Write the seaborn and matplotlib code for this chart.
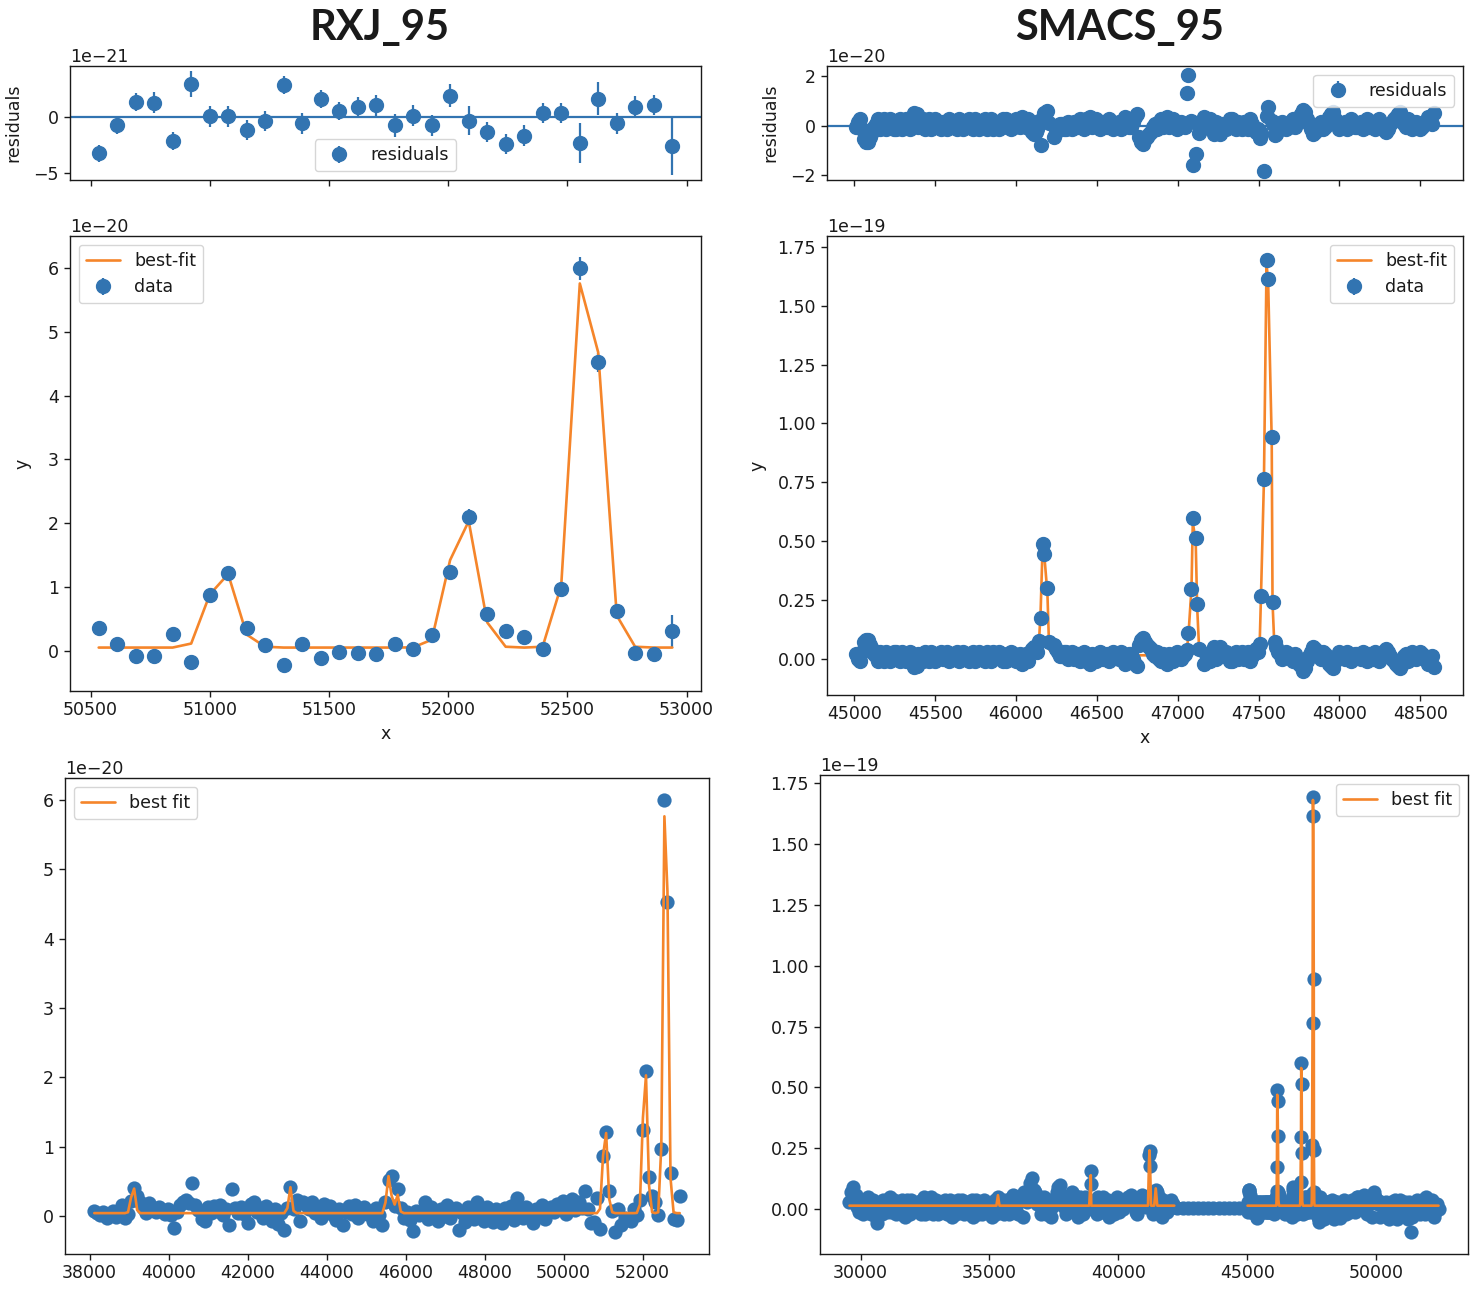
import numpy as np
import pandas as pd
import matplotlib
matplotlib.use("Agg")
import matplotlib.pyplot as plt
import seaborn as sns
from matplotlib.ticker import MultipleLocator

# ------------------------------------------------------------------ data
# RXJ_95 spectrum (flux in units of 1e-20)
rxj_wave = [
    38118, 38196, 38273, 38351, 38428, 38506, 38584, 38661, 38739, 38816,
    38894, 38972, 39049, 39127, 39204, 39282, 39360, 39437, 39515, 39592,
    39670, 39748, 39825, 39903, 39980, 40058, 40136, 40213, 40291, 40368,
    40446, 40524, 40601, 40679, 40756, 40834, 40912, 40989, 41067, 41144,
    41222, 41300, 41377, 41455, 41532, 41610, 41688, 41765, 41843, 41920,
    41998, 42076, 42153, 42231, 42308, 42386, 42464, 42541, 42619, 42696,
    42774, 42852, 42929, 43007, 43084, 43162, 43240, 43317, 43395, 43472,
    43550, 43628, 43705, 43783, 43860, 43938, 44016, 44093, 44171, 44248,
    44326, 44404, 44481, 44559, 44636, 44714, 44792, 44869, 44947, 45024,
    45102, 45180, 45257, 45335, 45412, 45490, 45568, 45645, 45723, 45800,
    45878, 45956, 46033, 46111, 46188, 46266, 46344, 46421, 46499, 46576,
    46654, 46732, 46809, 46887, 46964, 47042, 47120, 47197, 47275, 47352,
    47430, 47508, 47585, 47663, 47740, 47818, 47896, 47973, 48051, 48128,
    48206, 48284, 48361, 48439, 48516, 48594, 48672, 48749, 48827, 48904,
    48982, 49060, 49137, 49215, 49292, 49370, 49448, 49525, 49603, 49680,
    49758, 49836, 49913, 49991, 50068, 50146, 50224, 50301, 50379, 50456,
    50534, 50612, 50689, 50767, 50844, 50922, 51000, 51077, 51155, 51232,
    51310, 51388, 51465, 51543, 51620, 51698, 51776, 51853, 51931, 52008,
    52086, 52164, 52241, 52319, 52396, 52474, 52552, 52629, 52707, 52784,
    52862, 52940,
]
rxj_flux = [
    0.08, 0.05, 0.02, 0.07, -0.02, 0.04, 0.08, -0.01, 0.03, 0.16,
    -0.02, 0.03, 0.22, 0.41, 0.30, 0.21, 0.12, 0.05, 0.19, 0.10,
    0.06, 0.13, 0.09, 0.04, 0.11, 0.02, -0.16, 0.07, 0.17, 0.21,
    0.24, 0.19, 0.48, 0.16, 0.09, -0.04, -0.07, 0.13, 0.05, 0.15,
    0.08, 0.16, 0.02, 0.11, -0.12, 0.39, 0.12, 0.05, 0.14, 0.03,
    -0.09, 0.18, 0.21, 0.06, 0.12, -0.02, 0.15, 0.04, -0.07, 0.10,
    -0.11, 0.05, -0.19, 0.12, 0.42, 0.10, 0.24, -0.07, 0.20, 0.16,
    0.10, 0.20, 0.05, 0.13, -0.03, 0.18, 0.07, 0.15, 0.02, -0.05,
    0.11, -0.12, 0.06, 0.15, 0.03, 0.16, -0.02, 0.09, 0.13, 0.04,
    0.08, -0.06, 0.12, 0.02, -0.12, 0.20, 0.53, 0.58, 0.15, 0.39,
    0.12, -0.02, 0.06, -0.05, -0.21, 0.08, 0.02, 0.06, 0.21, -0.04,
    0.14, 0.03, -0.07, 0.11, 0.00, 0.16, -0.03, 0.08, 0.12, -0.20,
    0.05, -0.08, 0.13, 0.02, -0.04, 0.20, 0.09, -0.06, 0.14, 0.04,
    -0.08, 0.10, 0.03, -0.10, 0.12, 0.01, 0.15, -0.05, 0.26, 0.08,
    -0.03, 0.14, 0.05, -0.09, 0.10, 0.02, 0.17, -0.04, 0.08, 0.13,
    0.06, 0.18, 0.11, 0.22, 0.04, 0.15, 0.25, 0.09, 0.21, 0.12,
    0.36, 0.10, -0.09, -0.08, 0.26, -0.18, 0.87, 1.22, 0.36, 0.08,
    -0.23, 0.10, -0.12, -0.02, -0.04, -0.06, 0.10, 0.02, 0.24, 1.24,
    2.09, 0.57, 0.30, 0.21, 0.02, 0.97, 6.00, 4.52, 0.62, -0.04,
    -0.05, 0.30,
]
rxj_fit_base = 0.047
rxj_fit_peak_wave = [38972, 39049, 39127, 39204, 43007, 43084, 43162,
                     45490, 45568, 45645, 45723, 45800, 45878,
                     50922, 51000, 51077, 51155, 51232, 51853, 51931, 52008,
                     52086, 52164, 52241, 52396, 52474, 52552, 52629, 52707, 52784]
rxj_fit_peak_flux = [0.06, 0.27, 0.40, 0.09, 0.12, 0.42, 0.08,
                     0.20, 0.58, 0.30, 0.17, 0.31, 0.07,
                     0.11, 0.88, 1.20, 0.25, 0.06, 0.05, 0.17, 1.42,
                     2.03, 0.44, 0.06, 0.06, 1.02, 5.76, 4.68, 0.55, 0.06]
rxj_zoom_start = 50500
# residuals of the zoomed fit (units 1e-21) and flux errors (1e-21)
rxj_resid = [-3.24, -0.71, 1.31, 1.25, -2.17, 2.86, 0.03, 0.03, -1.16, -0.36,
             2.83, -0.60, 1.58, 0.54, 0.86, 1.00, -0.77, 0.09, -0.77, 1.85,
             -0.36, -1.37, -2.44, -1.67, 0.33, 0.30, -2.32, 1.60, -0.60, 0.89,
             1.04, -2.59]
rxj_err = [0.75, 0.8, 0.8, 0.9, 0.8, 1.16, 0.9, 0.9, 0.9, 0.9,
           0.8, 0.9, 0.8, 0.8, 0.9, 0.9, 1.0, 0.9, 0.9, 1.0,
           1.26, 0.9, 0.9, 0.9, 0.9, 0.9, 1.8, 1.46, 0.9, 0.9,
           0.9, 2.55]

# SMACS_95 zoomed spectrum (flux in units of 1e-19)
smacs_wave = [
    45010, 45035, 45060, 45085, 45110, 45135, 45160, 45185, 45210, 45235,
    45260, 45285, 45310, 45335, 45360, 45385, 45410, 45435, 45460, 45485,
    45510, 45535, 45560, 45585, 45610, 45635, 45660, 45685, 45710, 45735,
    45760, 45785, 45810, 45835, 45860, 45885, 45910, 45935, 45960, 45985,
    46010, 46035, 46060, 46085, 46110,
    46130, 46141, 46152, 46164, 46176, 46194, 46205,
    46235, 46260, 46285, 46310, 46335, 46360, 46385, 46410, 46435, 46460,
    46485, 46510, 46535, 46560, 46585, 46610, 46635, 46660, 46685, 46710,
    46735, 46760, 46785, 46810, 46835, 46860, 46885, 46910, 46935, 46960,
    46985, 47010, 47035,
    47055, 47066, 47085, 47093, 47111, 47120, 47133,
    47160, 47185, 47210, 47235, 47260, 47285, 47310, 47335, 47360, 47385,
    47410, 47435, 47460, 47485,
    47506, 47514, 47533, 47549, 47559, 47581, 47586, 47599,
    47610, 47635, 47660, 47685, 47710, 47735, 47760, 47785, 47810, 47835,
    47860, 47885, 47910, 47935, 47960, 47985, 48010, 48035, 48060, 48085,
    48110, 48135, 48160, 48185, 48210, 48235, 48260, 48285, 48310, 48335,
    48360, 48385, 48410, 48435, 48460, 48485, 48510, 48535, 48560, 48585,
]
smacs_flux = [
    0.02, -0.01, 0.07, 0.08, 0.04, 0.01, 0.03, -0.01, 0.02, 0.00,
    0.03, -0.01, 0.02, 0.01, -0.02, -0.03, 0.01, 0.03, -0.01, 0.02,
    0.00, 0.03, 0.01, -0.01, 0.02, 0.03, 0.00, 0.02, -0.01, 0.03,
    0.01, 0.02, -0.01, 0.01, 0.03, 0.01, 0.02, -0.01, 0.00, 0.02,
    0.01, -0.02, 0.02, 0.03, 0.05,
    0.03, 0.074, 0.174, 0.488, 0.445, 0.30, 0.071,
    0.06, 0.03, 0.01, 0.03, 0.02, 0.00, 0.02, 0.01, -0.01, -0.02,
    0.01, 0.02, 0.00, 0.02, 0.01, 0.02, 0.00, 0.01, -0.01, 0.02,
    -0.02, 0.06, 0.09, 0.06, 0.04, 0.01, 0.00, 0.02, -0.02, 0.01,
    0.00, 0.02, 0.01,
    0.036, 0.111, 0.295, 0.60, 0.514, 0.233, 0.043,
    -0.02, 0.01, 0.03, 0.00, 0.05, 0.02, 0.01, -0.01, 0.03, 0.02,
    0.00, 0.03, 0.01, 0.04,
    0.064, 0.265, 0.763, 1.693, 1.616, 0.944, 0.243, 0.071,
    0.05, 0.02, 0.01, 0.02, -0.01, 0.00, -0.03, -0.04, 0.01, 0.05,
    0.03, 0.00, 0.02, -0.02, -0.04, 0.01, 0.02, 0.00, 0.02, 0.01,
    0.02, 0.00, 0.01, 0.02, 0.00, 0.01, 0.02, 0.04, 0.01, -0.01,
    -0.03, -0.02, 0.02, 0.01, 0.02, 0.01, 0.02, 0.00, -0.01, -0.035,
]
# interleaved continuum samples of the same zoomed spectrum
smacs_wave_b = [
    45022, 45047, 45072, 45097, 45122, 45147, 45172, 45197, 45222, 45247,
    45272, 45297, 45322, 45347, 45372, 45397, 45422, 45447, 45472, 45497,
    45522, 45547, 45572, 45597, 45622, 45647, 45672, 45697, 45722, 45747,
    45772, 45797, 45822, 45847, 45872, 45897, 45922, 45947, 45972, 45997,
    46022, 46047, 46072, 46097, 46122,
    46247, 46272, 46297, 46322, 46347, 46372, 46397, 46422, 46447, 46472,
    46497, 46522, 46547, 46572, 46597, 46622, 46647, 46672, 46697, 46722,
    46747, 46772, 46797, 46822, 46847, 46872, 46897, 46922, 46947, 46972,
    46997, 47022, 47047,
    47172, 47197, 47222, 47247, 47272, 47297, 47322, 47347, 47372, 47397,
    47422, 47447, 47472, 47497,
    47622, 47647, 47672, 47697, 47722, 47747, 47772, 47797, 47822, 47847,
    47872, 47897, 47922, 47947, 47972, 47997, 48022, 48047, 48072, 48097,
    48122, 48147, 48172, 48197, 48222, 48247, 48272, 48297, 48322, 48347,
    48372, 48397, 48422, 48447, 48472, 48497, 48522, 48547, 48572,
]
smacs_flux_b = [
    0.00, 0.03, 0.08, 0.06, 0.02, -0.01, 0.02, 0.03, -0.01, 0.03,
    0.01, 0.03, -0.01, 0.03, -0.035, 0.02, -0.01, 0.01, 0.03, -0.01,
    0.02, 0.00, 0.03, 0.02, 0.00, -0.01, 0.03, 0.01, 0.02, -0.01,
    0.03, 0.00, 0.03, -0.01, 0.01, 0.03, -0.01, 0.02, 0.03, -0.01,
    0.02, 0.01, -0.01, 0.04, 0.04,
    0.04, 0.01, 0.03, 0.00, 0.03, 0.02, -0.01, 0.03, 0.01, 0.02,
    -0.01, 0.03, 0.01, -0.01, 0.03, 0.01, 0.03, -0.02, 0.02, 0.00,
    -0.03, 0.08, 0.07, 0.05, 0.02, 0.03, -0.01, 0.01, 0.02, -0.01,
    0.03, 0.00, 0.02,
    0.02, -0.01, 0.05, 0.02, 0.01, 0.03, -0.01, 0.02, 0.00, 0.03,
    0.02, -0.01, 0.03, 0.03,
    0.03, 0.00, 0.03, 0.01, 0.02, -0.02, -0.05, -0.01, 0.03, 0.04,
    0.01, 0.03, 0.00, -0.03, -0.01, 0.03, 0.01, 0.03, -0.01, 0.02,
    0.01, 0.03, -0.01, 0.01, 0.03, -0.01, 0.03, 0.03, 0.00, -0.02,
    -0.04, 0.01, -0.01, 0.03, 0.00, 0.03, 0.01, -0.02, 0.01,
]
smacs_err = 0.015          # 1e-19
smacs_resid_err = 0.15     # 1e-20
smacs_fit_base = 0.015
smacs_fit_peak_wave = [35330, 38930, 41190, 41210, 41230, 41450,
                       46141, 46152, 46164, 46176, 46194, 46205,
                       47055, 47066, 47085, 47093, 47111, 47120, 47133,
                       47506, 47514, 47533, 47549, 47559, 47581, 47586, 47599]
smacs_fit_peak_flux = [0.058, 0.14, 0.20, 0.242, 0.18, 0.086,
                       0.06, 0.20, 0.47, 0.43, 0.28, 0.04,
                       0.03, 0.10, 0.30, 0.58, 0.50, 0.22, 0.03,
                       0.05, 0.25, 0.76, 1.68, 1.60, 0.93, 0.24, 0.03]
# residual values (1e-20) where they differ from fit - data
smacs_resid_peak_wave = [46141, 46152, 46164, 46176, 46194, 46205,
                         47055, 47066, 47085, 47093, 47111, 47120, 47133,
                         47506, 47514, 47533, 47549, 47559, 47581, 47586, 47599]
smacs_resid_peak_val = [0.2, -0.8, 0.3, 0.5, 0.6, 0.1,
                        1.3, 2.05, 0.2, -1.6, -1.14, 0.1, -0.3,
                        -0.5, -0.3, -1.84, 0.4, 0.75, 0.2, 0.05, -0.4]

# SMACS_95 full spectrum, outside the zoomed window (1e-19)
smacs_left_wave = [
    29570, 29690, 29810, 29930, 30050, 30170, 30290, 30410, 30530, 30650,
    30770, 30890, 31010, 31130, 31250, 31370, 31490, 31610, 31730, 31850,
    31970, 32090, 32210, 32330, 32450, 32570, 32690, 32810, 32930, 33050,
    33170, 33290, 33410, 33530, 33650, 33770, 33890, 34010, 34130, 34250,
    34370, 34490, 34610, 34730, 34850, 34970, 35090, 35210, 35330, 35450,
    35570, 35690, 35810, 35930, 36050, 36170, 36290, 36410, 36530, 36650,
    36770, 36890, 37010, 37130, 37250, 37370, 37490, 37610, 37730, 37850,
    37970, 38090, 38210, 38330, 38450, 38570, 38690, 38810, 38930, 38950, 39050,
    39170, 39290, 39410, 39530, 39650, 39770, 39890, 40010, 40130, 40250,
    40370, 40490, 40610, 40730, 40850, 40970, 41090, 41190, 41210, 41230, 41330,
    41450, 41570, 41690, 41810, 41930, 42050, 42170,
]
smacs_left_flux = [
    0.03, 0.09, 0.06, -0.01, 0.04, 0.01, 0.05, -0.02, 0.03, -0.055,
    0.02, 0.04, -0.01, 0.05, 0.02, -0.02, 0.03, 0.04, -0.03, 0.02,
    0.04, 0.00, 0.03, -0.02, 0.05, 0.01, 0.03, -0.02, 0.04, 0.02,
    -0.01, 0.04, 0.01, -0.03, 0.03, 0.04, 0.00, -0.02, 0.03, 0.02,
    -0.03, 0.04, 0.01, -0.02, 0.03, 0.02, -0.03, 0.04, 0.05, 0.01,
    -0.02, 0.04, 0.03, 0.06, 0.02, 0.05, -0.03, 0.06, 0.08, 0.13,
    0.07, 0.04, -0.02, 0.05, 0.02, -0.03, 0.04, 0.07, 0.10, 0.03,
    -0.02, 0.05, 0.07, 0.04, -0.03, 0.03, 0.05, 0.01, 0.156, 0.103, 0.02,
    -0.02, 0.04, 0.05, 0.01, -0.03, 0.03, 0.04, -0.01, 0.02, 0.03,
    0.05, 0.06, 0.02, -0.02, 0.04, 0.03, 0.01, 0.224, 0.238, 0.177, -0.02,
    0.08, 0.05, -0.03, 0.03, 0.02, 0.04, 0.01,
]
smacs_left_wave_b = [
    29630, 29750, 29870, 29990, 30110, 30230, 30350, 30470, 30590, 30710,
    30830, 30950, 31070, 31190, 31310, 31430, 31550, 31670, 31790, 31910,
    32030, 32150, 32270, 32390, 32510, 32630, 32750, 32870, 32990, 33110,
    33230, 33350, 33470, 33590, 33710, 33830, 33950, 34070, 34190, 34310,
    34430, 34550, 34670, 34790, 34910, 35030, 35150, 35270, 35390, 35510,
    35630, 35750, 35870, 35990, 36110, 36230, 36350, 36470, 36590, 36710,
    36830, 36950, 37070, 37190, 37310, 37430, 37550, 37670, 37790, 37910,
    38030, 38150, 38270, 38390, 38510, 38630, 38750, 38870, 38990, 39110,
    39230, 39350, 39470, 39590, 39710, 39830, 39950, 40070, 40190, 40310,
    40430, 40550, 40670, 40790, 40910, 41030, 41150, 41270, 41390, 41510,
    41630, 41750, 41870, 41990, 42110,
]
smacs_left_flux_b = [
    0.07, 0.04, 0.01, 0.03, -0.02, 0.03, 0.01, 0.04, -0.03, 0.01,
    -0.02, 0.03, 0.02, -0.01, 0.04, 0.01, -0.02, 0.02, 0.04, -0.02,
    0.03, 0.02, -0.01, 0.04, -0.02, 0.03, 0.05, 0.00, -0.02, 0.03,
    0.02, -0.02, 0.04, 0.01, -0.02, 0.03, 0.04, 0.01, -0.02, 0.04,
    0.00, -0.02, 0.03, 0.04, -0.01, 0.02, 0.01, -0.02, 0.03, 0.04,
    0.02, -0.02, 0.05, 0.01, -0.02, 0.04, 0.07, 0.03, 0.11, 0.08,
    0.02, 0.05, 0.01, -0.02, 0.04, 0.01, 0.03, 0.09, 0.06, 0.01,
    0.04, 0.02, 0.06, 0.01, 0.05, -0.02, 0.03, 0.04, 0.00, 0.03,
    0.05, -0.01, 0.03, 0.04, 0.02, -0.02, 0.05, 0.03, 0.00, 0.04,
    0.03, 0.05, -0.01, 0.03, 0.06, 0.02, 0.04, 0.03, 0.01, 0.07,
    0.02, 0.04, -0.01, 0.03, 0.02,
]
smacs_gap_wave = [42290, 42490, 42690, 42890, 43090, 43290, 43490,
                  43690, 43890, 44090, 44290, 44490, 44690, 44890]
smacs_gap_flux = [0.004, 0.004, 0.004, 0.004, 0.004, 0.004, 0.004,
                  0.004, 0.004, 0.004, 0.004, 0.004, 0.004, 0.004]
smacs_right_wave = [
    48700, 48820, 48940, 49060, 49180, 49300, 49420, 49540, 49660, 49780,
    49900, 50020, 50140, 50260, 50380, 50500, 50620, 50740, 50860, 50980,
    51100, 51220, 51340, 51460, 51580, 51700, 51820, 51940, 52060, 52180,
    52300, 52420,
    48760, 48880, 49000, 49120, 49240, 49360, 49480, 49600, 49720, 49840,
    49960, 50080, 50200, 50320, 50440, 50560, 50680, 50800, 50920, 51040,
    51160, 51280, 51400, 51520, 51640, 51760, 51880, 52000, 52120, 52240,
    52360,
]
smacs_right_flux = [
    0.02, -0.02, 0.03, 0.04, -0.01, 0.05, 0.02, 0.06, -0.02, 0.03,
    0.07, 0.04, -0.03, 0.02, 0.03, -0.04, 0.01, 0.04, -0.03, 0.02,
    0.03, -0.04, -0.094, 0.02, 0.04, -0.02, 0.03, 0.05, 0.01, 0.04,
    -0.01, 0.00,
    0.04, 0.01, -0.01, 0.02, 0.05, 0.00, 0.03, 0.04, 0.02, -0.03,
    0.05, 0.02, 0.03, 0.01, -0.02, 0.03, 0.02, -0.04, 0.04, 0.01,
    -0.02, 0.03, -0.03, 0.01, 0.03, 0.04, -0.02, 0.02, 0.03, -0.03,
    0.02,
]
smacs_gap_range = (42200, 44950)

titles = ["RXJ_95", "SMACS_95"]
rxj_yticks = [0, 1, 2, 3, 4, 5, 6]                                  # 1e-20
smacs_yticks = [0.0, 0.25, 0.5, 0.75, 1.0, 1.25, 1.5, 1.75]        # 1e-19
rxj_resid_yticks = [-5, 0]                                          # 1e-21
smacs_resid_yticks = [-2, 0, 2]                                     # 1e-20

# ------------------------------------------------------------------ build tables
def with_peaks(wave, base, peak_wave, peak_val):
    lookup = dict(zip(peak_wave, peak_val))
    return [lookup.get(w, base) for w in wave]

rxj = pd.DataFrame({"x": rxj_wave, "flux": rxj_flux})
rxj["fit"] = with_peaks(rxj_wave, rxj_fit_base, rxj_fit_peak_wave, rxj_fit_peak_flux)
rxj_zoom = rxj[rxj["x"] >= rxj_zoom_start].reset_index(drop=True)
rxj_zoom["resid"] = rxj_resid
rxj_zoom["err"] = rxj_err

sm = pd.DataFrame({"x": smacs_wave + smacs_wave_b, "flux": smacs_flux + smacs_flux_b})
sm = sm.sort_values("x").reset_index(drop=True)
sm["fit"] = with_peaks(list(sm["x"]), smacs_fit_base, smacs_fit_peak_wave, smacs_fit_peak_flux)
rlook = dict(zip(smacs_resid_peak_wave, smacs_resid_peak_val))
sm["resid"] = [rlook.get(w, (f - d) * 10) for w, f, d in zip(sm["x"], sm["fit"], sm["flux"])]

smf = pd.DataFrame({
    "x": smacs_left_wave + smacs_left_wave_b + smacs_gap_wave + list(sm["x"]) + smacs_right_wave,
    "flux": smacs_left_flux + smacs_left_flux_b + smacs_gap_flux + list(sm["flux"]) + smacs_right_flux,
})
smf = smf.sort_values("x").reset_index(drop=True)
smf["fit"] = with_peaks(list(smf["x"]), smacs_fit_base, smacs_fit_peak_wave, smacs_fit_peak_flux)

# physical units
for col in ("flux", "fit"):
    rxj[col] = rxj[col] * 1e-20
    rxj_zoom[col] = rxj_zoom[col] * 1e-20
    sm[col] = sm[col] * 1e-19
    smf[col] = smf[col] * 1e-19
rxj_zoom["resid"] = rxj_zoom["resid"] * 1e-21
rxj_zoom["err"] = rxj_zoom["err"] * 1e-21
sm["resid"] = sm["resid"] * 1e-20

smf_line_a = smf[smf["x"] <= smacs_gap_range[0]]
smf_line_b = smf[smf["x"] >= smacs_gap_range[1]]

# ------------------------------------------------------------------ style
sns.set_theme(style="ticks", rc={
    "axes.edgecolor": "#1a1a1a", "axes.linewidth": 1.0,
    "xtick.color": "#1a1a1a", "ytick.color": "#1a1a1a",
    "text.color": "#1a1a1a", "axes.labelcolor": "#1a1a1a",
    "xtick.major.size": 4.5, "ytick.major.size": 4.5,
    "xtick.major.width": 1.0, "ytick.major.width": 1.0,
    "xtick.labelsize": 12.5, "ytick.labelsize": 12.5,
    "xtick.major.pad": 3.0, "ytick.major.pad": 3.5,
    "axes.labelsize": 12.5, "legend.fontsize": 12.5,
})
plt.rcParams["font.family"] = ["DejaVu Sans"]

BLUE = "#3274b1"
ORANGE = "#f5852a"

W, H = 1477, 1291
fig = plt.figure(figsize=(W / 100, H / 100), dpi=100)

def box(l, t, r, b):
    return [l / W, 1 - b / H, (r - l) / W, (b - t) / H]

ax_ml = fig.add_axes(box(70, 236, 701, 691))
ax_tl = fig.add_axes(box(70, 66, 701, 180), sharex=ax_ml)
ax_bl = fig.add_axes(box(65, 778, 709, 1254))
ax_mr = fig.add_axes(box(827, 236, 1463, 695))
ax_tr = fig.add_axes(box(827, 66, 1463, 180), sharex=ax_mr)
ax_br = fig.add_axes(box(820, 775, 1468, 1254))

MS = 10
ELW = 1.6
LW = 1.9
S = 105

# ---- top-left residuals
ax_tl.axhline(0, color=BLUE, lw=1.6)
ax_tl.errorbar(rxj_zoom["x"], rxj_zoom["resid"], yerr=rxj_zoom["err"], fmt="o",
               color=BLUE, ms=MS, elinewidth=ELW, label="residuals")
ax_tl.set_yticks([v * 1e-21 for v in rxj_resid_yticks])
ax_tl.set_ylabel("residuals", labelpad=8)
ax_tl.tick_params(labelbottom=False)
ax_tl.legend(loc="lower center")

# ---- middle-left data + fit
ax_ml.errorbar(rxj_zoom["x"], rxj_zoom["flux"], yerr=rxj_zoom["err"], fmt="o",
               color=BLUE, ms=MS, elinewidth=ELW, label="data")
sns.lineplot(data=rxj_zoom, x="x", y="fit", ax=ax_ml, color=ORANGE, lw=LW,
             label="best-fit", legend=False, estimator=None, sort=False, errorbar=None)
ax_ml.set_yticks([v * 1e-20 for v in rxj_yticks])
ax_ml.set_xlabel("x")
ax_ml.set_ylabel("y", labelpad=12)
ax_ml.legend(loc="upper left")

# ---- bottom-left full spectrum
sns.scatterplot(data=rxj, x="x", y="flux", ax=ax_bl, color=BLUE, s=S,
                linewidth=0, legend=False)
sns.lineplot(data=rxj, x="x", y="fit", ax=ax_bl, color=ORANGE, lw=LW,
             label="best fit", legend=False, estimator=None, sort=False, errorbar=None)
ax_bl.set_yticks([v * 1e-20 for v in rxj_yticks])
ax_bl.xaxis.set_major_locator(MultipleLocator(2000))
ax_bl.legend(loc="upper left")

# ---- top-right residuals
ax_tr.axhline(0, color=BLUE, lw=1.6)
ax_tr.errorbar(sm["x"], sm["resid"], yerr=smacs_resid_err * 1e-20, fmt="o",
               color=BLUE, ms=MS, elinewidth=ELW, label="residuals")
ax_tr.set_yticks([v * 1e-20 for v in smacs_resid_yticks])
ax_tr.set_ylabel("residuals", labelpad=8)
ax_tr.tick_params(labelbottom=False)
ax_tr.legend(loc="upper right")

# ---- middle-right data + fit
ax_mr.errorbar(sm["x"], sm["flux"], yerr=smacs_err * 1e-19, fmt="o",
               color=BLUE, ms=MS, elinewidth=ELW, label="data")
sns.lineplot(data=sm, x="x", y="fit", ax=ax_mr, color=ORANGE, lw=LW,
             label="best-fit", legend=False, estimator=None, sort=False, errorbar=None)
ax_mr.set_yticks([v * 1e-19 for v in smacs_yticks])
ax_mr.xaxis.set_major_locator(MultipleLocator(500))
ax_mr.set_xlabel("x")
ax_mr.set_ylabel("y", labelpad=8)
ax_mr.legend(loc="upper right")

# ---- bottom-right full spectrum
sns.scatterplot(data=smf, x="x", y="flux", ax=ax_br, color=BLUE, s=S,
                linewidth=0, legend=False)
sns.lineplot(data=smf_line_a, x="x", y="fit", ax=ax_br, color=ORANGE, lw=LW,
             label="best fit", legend=False, estimator=None, sort=False, errorbar=None)
sns.lineplot(data=smf_line_b, x="x", y="fit", ax=ax_br, color=ORANGE, lw=LW,
             label="_nolegend_", legend=False, estimator=None, sort=False, errorbar=None)
ax_br.set_yticks([v * 1e-19 for v in smacs_yticks])
ax_br.xaxis.set_major_locator(MultipleLocator(5000))
ax_br.legend(loc="upper right")

# hide axis labels that the reference does not show
for ax in (ax_bl, ax_br):
    ax.xaxis.label.set_visible(False)
    ax.yaxis.label.set_visible(False)
for ax in (ax_tl, ax_tr):
    ax.xaxis.label.set_visible(False)

for ax in (ax_tl, ax_ml, ax_bl, ax_tr, ax_mr, ax_br):
    ax.yaxis.get_offset_text().set_fontsize(12.5)
    for s in ax.spines.values():
        s.set_visible(True)

fig.text(380 / W, 1 - 28 / H, titles[0], ha="center", va="center",
         fontsize=30, fontweight="bold", family=["Lato", "DejaVu Sans"])
fig.text(1120 / W, 1 - 28 / H, titles[1], ha="center", va="center",
         fontsize=30, fontweight="bold", family=["Lato", "DejaVu Sans"])

fig.savefig("out.png", dpi=100)
